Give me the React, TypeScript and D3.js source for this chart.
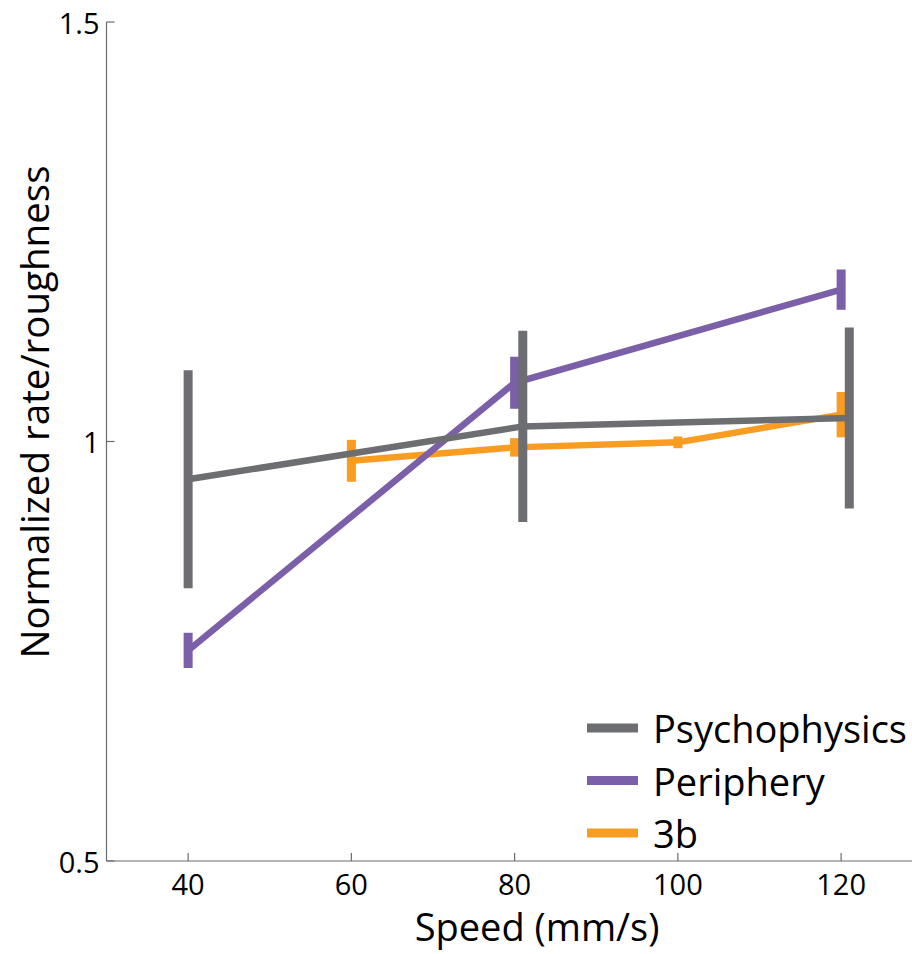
import React from "react";
import * as d3 from "d3";

const xTicks = [40, 60, 80, 100, 120];
const yTicks = [0.5, 1, 1.5];
const yTickLabels = ["0.5", "1", "1.5"];

const psychoX = [40, 81, 121];
const psychoY = [0.955, 1.018, 1.028];
const psychoErr = [0.13, 0.114, 0.108];

const periX = [40, 80, 120];
const periY = [0.751, 1.07, 1.181];
const periErr = [0.021, 0.031, 0.024];

const b3X = [60, 80, 100, 120];
const b3Y = [0.977, 0.993, 0.999, 1.032];
const b3Err = [0.025, 0.011, 0.007, 0.027];

const seriesNames = ["Psychophysics", "Periphery", "3b"];
const colors = ["#6d6e72", "#7b5fa8", "#f89c22"];

const W = 912;
const H = 954;
const FONT = "'Open Sans', sans-serif";

export default function App() {
  const x = d3.scaleLinear().domain([30, 130]).range([106.5, 922.75]);
  const y = d3.scaleLinear().domain([0.5, 1.5]).range([861, 22]);
  const line = d3
    .line<[number, number]>()
    .x((d) => x(d[0]))
    .y((d) => y(d[1]));

  const series = [
    { xs: psychoX, ys: psychoY, es: psychoErr, color: colors[0] },
    { xs: periX, ys: periY, es: periErr, color: colors[1] },
    { xs: b3X, ys: b3Y, es: b3Err, color: colors[2] },
  ];
  const drawOrder = [2, 1, 0];

  const axisColor = "#6b6b6b";
  const x0 = x(30);
  const yBottom = y(0.5);

  return (
    <svg
      width={W}
      height={H}
      style={{ position: "absolute", left: 0, top: 0, background: "#fff" }}
      fontFamily={FONT}
    >
      {/* axes */}
      <line x1={x0} x2={W} y1={yBottom} y2={yBottom} stroke={axisColor} strokeWidth={1.2} />
      <line x1={x0} x2={x0} y1={y(1.5)} y2={yBottom} stroke={axisColor} strokeWidth={1.2} />
      {yTicks.map((t, i) => (
        <g key={"yt" + i}>
          <line x1={x0} x2={x0 + 8} y1={y(t)} y2={y(t)} stroke={axisColor} strokeWidth={1.2} />
          <text
            x={x0 - 7}
            y={y(t)}
            textAnchor="end"
            dominantBaseline="central"
            fontSize={29}
            fill="#000"
          >
            {yTickLabels[i]}
          </text>
        </g>
      ))}
      {xTicks.map((t, i) => (
        <g key={"xt" + i}>
          <line x1={x(t)} x2={x(t)} y1={yBottom} y2={yBottom - 8} stroke={axisColor} strokeWidth={1.2} />
          <text x={x(t)} y={yBottom + 34} textAnchor="middle" fontSize={29} fill="#000">
            {t}
          </text>
        </g>
      ))}

      {/* axis labels */}
      <text x={537} y={941} textAnchor="middle" fontSize={38} fill="#000">
        Speed (mm/s)
      </text>
      <text
        transform={`translate(49, 412) rotate(-90)`}
        textAnchor="middle"
        fontSize={38.5}
        fill="#000"
      >
        Normalized rate/roughness
      </text>

      {/* series */}
      {drawOrder.map((si) => {
        const s = series[si];
        const pts: [number, number][] = s.xs.map((v, i) => [v, s.ys[i]]);
        return (
          <g key={"s" + si}>
            <path d={line(pts) || ""} fill="none" stroke={s.color} strokeWidth={6.5} />
            {s.xs.map((v, i) => (
              <line
                key={"e" + i}
                x1={x(v)}
                x2={x(v)}
                y1={y(s.ys[i] + s.es[i])}
                y2={y(s.ys[i] - s.es[i])}
                stroke={s.color}
                strokeWidth={9}
              />
            ))}
          </g>
        );
      })}

      {/* legend */}
      {seriesNames.map((n, i) => (
        <g key={"lg" + i} transform={`translate(587, ${728 + i * 52.5})`}>
          <line x1={0} x2={51} y1={0} y2={0} stroke={colors[i]} strokeWidth={9} />
          <text x={66} y={0} dominantBaseline="central" fontSize={38} fill="#000">
            {n}
          </text>
        </g>
      ))}
    </svg>
  );
}
